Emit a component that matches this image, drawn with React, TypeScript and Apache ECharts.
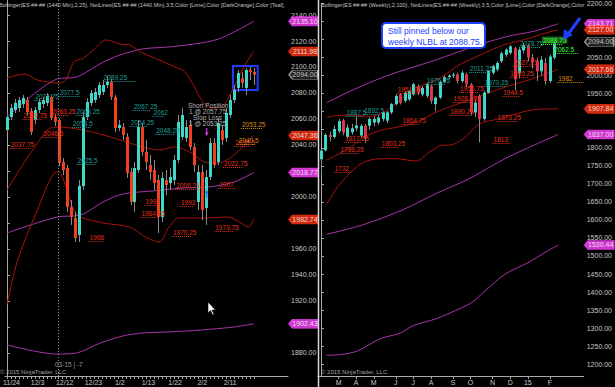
import React, { useEffect, useRef } from 'react';
import * as echarts from 'echarts';

const FONT = "'Liberation Sans', Arial, sans-serif";

// ---------------- LEFT PANEL (daily) ----------------
// [open, close, low, high]
const leftCandles: number[][] = [
  [2051.5, 2061.5, 2049.2, 2065.4], [2061.5, 2068.5, 2059.2, 2071.5], [2066.9, 2072.3, 2064.6, 2075.4],
  [2068.5, 2074.6, 2065.4, 2076.9], [2071.5, 2076.2, 2068.5, 2078.5], [2074.6, 2065.4, 2063.1, 2076.9],
  [2066.2, 2050.0, 2047.7, 2068.5], [2059.2, 2066.9, 2056.2, 2069.2], [2066.9, 2073.1, 2064.6, 2075.4],
  [2071.5, 2074.6, 2068.5, 2076.9], [2072.3, 2077.7, 2070.0, 2080.0], [2076.9, 2060.8, 2059.2, 2078.5],
  [2061.5, 2057.7, 2054.6, 2063.8], [2059.2, 2026.2, 2023.8, 2060.8], [2026.9, 2020.8, 2016.9, 2030.0],
  [2022.3, 1992.3, 1988.5, 2024.6], [1992.3, 1984.6, 1978.5, 1997.7], [1983.8, 1968.5, 1965.4, 1988.5],
  [1970.8, 2008.5, 1965.4, 2013.1], [2008.5, 2061.5, 2005.4, 2065.4], [2061.5, 2073.1, 2059.2, 2076.2],
  [2072.3, 2080.0, 2070.0, 2082.3], [2074.6, 2080.8, 2072.3, 2083.9], [2078.5, 2086.2, 2076.2, 2088.5],
  [2080.8, 2086.2, 2078.5, 2090.0], [2086.2, 2088.5, 2083.9, 2093.1], [2088.5, 2076.9, 2074.6, 2090.8],
  [2076.9, 2053.1, 2050.0, 2078.5], [2053.1, 2055.4, 2050.8, 2059.2], [2053.8, 2047.7, 2043.9, 2056.9],
  [2046.2, 2018.5, 2014.6, 2049.2], [2019.2, 1996.2, 1993.8, 2022.3], [1996.2, 2022.3, 1988.5, 2026.9],
  [2020.8, 2053.8, 2018.5, 2059.2], [2053.8, 2034.6, 2031.5, 2056.9], [2034.6, 2026.9, 2020.8, 2043.9],
  [2024.6, 2019.2, 2013.1, 2032.3], [2020.8, 2010.8, 2005.4, 2028.5], [2013.1, 1984.6, 1972.3, 2016.9],
  [1984.6, 2014.6, 1980.8, 2019.2], [2013.1, 2009.2, 2001.5, 2020.8], [2010.8, 2015.4, 2005.4, 2022.3],
  [2013.1, 2028.5, 2009.2, 2032.3], [2028.5, 2057.7, 2026.2, 2063.1], [2046.2, 2063.1, 2043.9, 2068.5],
  [2045.4, 2053.8, 2042.3, 2059.2], [2055.4, 2038.5, 2036.2, 2059.2], [2038.5, 2024.6, 2019.2, 2041.5],
  [1996.2, 2019.2, 1990.0, 2024.6], [2019.2, 1990.0, 1982.3, 2024.6], [1991.5, 2015.4, 1978.5, 2020.8],
  [2015.4, 2041.5, 2013.1, 2045.4], [2041.5, 2024.6, 2022.3, 2045.4], [2026.9, 2056.9, 2024.6, 2060.8],
  [2051.5, 2043.9, 2040.0, 2055.4], [2045.4, 2064.6, 2042.3, 2068.5], [2063.1, 2074.6, 2060.8, 2078.5],
  [2074.6, 2082.3, 2072.3, 2086.2], [2083.9, 2095.4, 2080.8, 2097.7], [2091.5, 2087.7, 2083.9, 2096.2],
  [2083.9, 2097.7, 2078.5, 2099.2], [2097.7, 2096.2, 2090.0, 2100.0], [2096.2, 2094.0, 2086.2, 2099.2],
];
const leftXTickPos = [1.15, 7.7, 14.5, 21.7, 28.3, 35.5, 42.2, 49, 56];
const leftXTickLabels = ['11/24', '12/3', '12/12', '12/23', '1/2', '1/13', '1/22', '2/2', '2/11'];
const leftYTicks = [1880, 1900, 1920, 1940, 1960, 1980, 2000, 2020, 2040, 2060, 2080, 2100, 2120, 2140];
// labels hidden behind the last-value tags
const leftYHidden = [1900, 1980, 2020];

const leftUpperMagenta = [[0.24, 2062], [12.57, 2090.8], [17.5, 2092.3], [24.15, 2103.8], [28.35, 2109.2], [34.02, 2113.9], [40.67, 2115.4], [48.81, 2118.5], [53, 2121.5], [56.95, 2126.9], [61.88, 2135.1]];
const leftMidMagenta = [[0, 1972.3], [12.57, 1984.6], [18.48, 1986.2], [24.15, 1996.2], [29.09, 2002.3], [36.48, 2004.6], [43.88, 2006.9], [50.54, 2007.7], [56.95, 2011.5], [61.88, 2018.77]];
const leftLowerMagenta = [[0, 1886.2], [12.57, 1879.2], [17.5, 1880], [23.42, 1887.7], [29.09, 1893.1], [34.02, 1895.4], [40.67, 1896.2], [48.81, 1897.7], [56.95, 1900], [61.88, 1902.43]];
const leftUpperRed = [[0, 2091.5], [4.43, 2094.6], [7.64, 2090], [13.06, 2087.7], [14.79, 2090], [16.76, 2103.8], [19.22, 2106.9], [21.69, 2113.1], [24.89, 2120.8], [28.35, 2117.7], [30.81, 2116.9], [34.02, 2110.8], [38.21, 2105.4], [42.15, 2100], [44.62, 2096.2], [47.08, 2084.6], [48.81, 2074.6], [51.28, 2068.5], [53.74, 2069.2], [56.21, 2080], [59.41, 2100], [61.88, 2111.98]];
const leftMidRed = [[0, 2005.4], [10.1, 2051.5], [13.06, 2053.8], [16.02, 2053.1], [22.43, 2049.2], [28.35, 2043.9], [34.02, 2038.5], [38.21, 2036.2], [42.15, 2038.5], [46.34, 2033.8], [49.55, 2026.9], [53, 2026.2], [56.95, 2032.3], [61.88, 2047.36]];
const leftLowerRed = [[0, 1916.9], [2.7, 1951.5], [7.64, 1990], [11.83, 2018.5], [13.06, 2019.2], [14.79, 2007.7], [16.76, 1990], [18.48, 1984.6], [24.15, 1980], [30.81, 1976.9], [34.76, 1969.2], [38.21, 1965.4], [40.67, 1976.9], [43.14, 1983.8], [48.81, 1983.8], [55.47, 1984.6], [58.67, 1980], [60.64, 1976.9], [61.88, 1982.74]];

// NetLines [fromBar, toBar, level]
const leftTealNet = [[6.9, 11.8, 2074.75], [13, 18.5, 2077.5], [24, 32.3, 2089.25], [17.2, 21, 2063.25], [31.6, 36, 2067.25], [36.5, 39.6, 2062], [30.8, 35.3, 2054.25], [37.2, 42.2, 2048.25], [17.5, 22.2, 2025.5], [16.3, 21.2, 2053.5]];
const leftRedNet = [[0.7, 6.2, 2037.75], [3.9, 8.9, 2059.75], [11.1, 15.5, 2063.25], [8.9, 13.8, 2046.5], [20.5, 24.2, 1966], [34.5, 37.7, 1994], [33.5, 37.7, 1984.25], [41.4, 46.3, 1970.25], [52, 57, 1973.75], [54.2, 59.2, 2022.75], [53, 57.4, 2007], [57, 61.1, 2039.5], [42.2, 48.1, 2006.25], [43.4, 46.8, 1993]];
const leftOrangeNet = [[58.7, 64.1, 2053.25], [57.9, 62.4, 2040.5]];

const leftTagValues = [2135.1, 2111.98, 2094.0, 2047.36, 2018.77, 1982.74, 1902.43];
const leftTagKinds = ['m', 'r', 'g', 'r', 'm', 'r', 'm'];

// ---------------- RIGHT PANEL (weekly) ----------------
const rightCandles: number[][] = [
  [1768, 1792, 1733, 1795], [1793, 1836, 1790, 1840], [1836, 1830, 1818, 1845], [1830, 1852, 1825, 1862],
  [1846, 1874, 1840, 1880], [1876, 1842, 1835, 1880], [1830, 1856, 1826, 1865], [1843, 1854, 1836, 1866],
  [1854, 1862, 1846, 1887], [1834, 1861, 1828, 1866], [1861, 1826, 1814, 1866], [1861, 1880, 1850, 1884],
  [1870, 1880, 1860, 1887], [1870, 1884, 1864, 1890], [1880, 1898, 1873, 1900], [1875, 1898, 1868, 1902],
  [1898, 1921, 1893, 1924], [1921, 1944, 1918, 1948], [1948, 1925, 1920, 1952], [1930, 1953, 1925, 1956],
  [1934, 1957, 1930, 1960], [1948, 1976, 1944, 1980], [1971, 1953, 1946, 1975], [1948, 1966, 1942, 1972],
  [1944, 1976, 1938, 1980], [1971, 1930, 1922, 1975], [1921, 1939, 1901, 1942], [1939, 1983, 1935, 1986],
  [1983, 1996, 1980, 2000], [1996, 2000, 1990, 2004], [2000, 2003, 1993, 2008], [2003, 1985, 1978, 2008],
  [1985, 2008, 1980, 2014], [2003, 1976, 1968, 2008], [1976, 1898, 1890, 1980], [1898, 1925, 1885, 1935],
  [1944, 1880, 1815, 1948], [1880, 1953, 1875, 1958], [1953, 2013, 1950, 2016], [2008, 2026, 2003, 2030],
  [2017, 2035, 2012, 2040], [2040, 2062, 2035, 2066], [2058, 2072, 2052, 2076], [2063, 2081, 2058, 2085],
  [2076, 1990, 1960, 2080], [2008, 2072, 1992, 2076], [2070, 2084, 2062, 2090], [2084, 2050, 2040, 2088],
  [2050, 2036, 2020, 2060], [2040, 2012, 1985, 2050], [2012, 2044, 2000, 2055], [2035, 1985, 1975, 2050],
  [1985, 2053, 1980, 2058], [2050, 2094, 2045, 2098],
];
const rightXTickPos = [4, 8, 12, 17, 21, 25, 30, 34, 39, 43, 47, 52];
const rightXTickLabels = ['M', 'A', 'M', 'J', 'J', 'A', 'S', 'O', 'N', 'D', '15', 'F'];
const rightYTicks = [1200, 1250, 1300, 1350, 1400, 1450, 1500, 1550, 1600, 1650, 1700, 1750, 1800, 1850, 1900, 1950, 2000, 2050, 2100, 2150, 2200];
const rightYHidden = [1850, 1900, 2100, 2150];

const rightUpperMagenta = [[1.27, 1925], [6.84, 1958], [14.93, 1999.5], [26.07, 2043.4], [34.98, 2082], [42.56, 2109.3], [48.4, 2123], [53.92, 2143.71]];
const rightMidMagenta = [[1.27, 1560], [9.8, 1587.4], [18.7, 1628.6], [26.07, 1672.6], [33.6, 1713.8], [39.2, 1752.2], [42.56, 1774.2], [48.4, 1807.2], [53.92, 1837]];
const rightLowerMagenta = [[1.27, 1224.8], [4.6, 1226.7], [8.3, 1236.6], [13.5, 1270.7], [18, 1286.1], [21, 1307.2], [26.1, 1325.6], [30.5, 1348.4], [34.3, 1371.2], [37.3, 1403.4], [41.8, 1449.2], [47, 1481.1], [51.4, 1513.3], [53.92, 1530.44]];
const rightUpperRed = [[1.27, 1884.1], [3.79, 1889.6], [7.51, 1890.4], [11.21, 1886.8], [14.19, 1897.8], [16.42, 1917.1], [18.65, 1939], [21.61, 1966.5], [24.58, 1980.2], [27.18, 1994], [31.42, 2029.7], [36.16, 2057.2], [41.38, 2084.6], [46.57, 2101.1], [51.03, 2118], [53.92, 2127]];
const rightMidRed = [[1.27, 1766], [6.08, 1796.2], [9.8, 1829.2], [13.52, 1848.4], [17.16, 1856.6], [21.61, 1870.4], [26.52, 1900.6], [33.87, 1933.5], [41.44, 1966.5], [48.8, 1994], [53.92, 2017.66]];
const rightLowerRed = [[1.27, 1642.4], [3.79, 1691.8], [6.84, 1733], [9.8, 1760.5], [13.52, 1769.6], [17.16, 1769.6], [21.61, 1763.2], [24.67, 1788], [27.63, 1807.2], [29.12, 1807.2], [32.82, 1829.2], [34.98, 1856.6], [36.92, 1870.4], [39.88, 1878.6], [48.8, 1906.1], [53.92, 1907.84]];

const rightTealNet = [[5.6, 9.6, 1887.5], [9.6, 13.6, 1892.5], [23.8, 28.3, 1976.25], [33.6, 38.5, 2011.25], [37, 41.9, 1970.25], [45, 49.8, 2078.75]];
const rightRedNet = [[5.3, 9.1, 1817.25], [4.2, 8.7, 1786.25], [2.9, 6.9, 1732], [13.6, 17.6, 1803.25], [39, 43, 1813], [39.9, 44.8, 1873.25], [29.2, 34.1, 1890.25], [29.9, 35, 1928.25], [41.2, 45.2, 1944.5], [31.4, 35.9, 1955.75], [17.2, 22.5, 1951.25], [18.3, 22.3, 1864.75], [43.7, 48.6, 2027.25], [42.8, 47.2, 1995.25]];
const rightOrangeNet = [[53.7, 59.7, 1982]];
const rightLimeNet = [[50, 54.8, 2088.75], [52.8, 58.6, 2062.5]];

const rightTagValues = [2143.71, 2127.0, 2094.0, 2017.66, 1907.84, 1837.0, 1530.44];
const rightTagKinds = ['m', 'r', 'g', 'r', 'r', 'm', 'm'];

// trade markers on the daily chart [bar, price]
const shortEntryArrow = [[50.1, 2050]];
const coverArrow = [[50.1, 2002.5]];

// ---------------- styling ----------------
const AXIS = '#a8a8a8';
const LABEL = '#c8c8c8';
const MAGENTA = '#a934a9';
const DKRED = '#a8140e';
const TEAL_TXT = '#1f9c96';
const RED_TXT = '#e0321c';
const ORANGE_TXT = '#d98a1c';
const LIME = '#3cff3c';

const tagStyle: Record<string, { fill: string; stroke: string; text: string }> = {
  m: { fill: '#ff44ff', stroke: '#ff44ff', text: '#ffffff' },
  r: { fill: '#ff3311', stroke: '#ff3311', text: '#ffffff' },
  g: { fill: '#2a2a2a', stroke: '#bdbdbd', text: '#e8e8e8' },
};

function candleRender(up: string, down: string, wick: string, bw: number) {
  return (_p: any, api: any) => {
    const x = api.value(0);
    const o = api.value(1), c = api.value(2), l = api.value(3), h = api.value(4);
    const po = api.coord([x, o]);
    const pc = api.coord([x, c]);
    const pl = api.coord([x, l]);
    const ph = api.coord([x, h]);
    const cx = Math.round(po[0]) + 0.5;
    const top = Math.min(po[1], pc[1]);
    const hgt = Math.max(1, Math.abs(po[1] - pc[1]));
    return {
      type: 'group',
      children: [
        { type: 'line', shape: { x1: cx, y1: ph[1], x2: cx, y2: pl[1] }, style: { stroke: wick, lineWidth: 1 } },
        { type: 'rect', shape: { x: cx - bw / 2, y: top, width: bw, height: hgt }, style: { fill: c >= o ? up : down } },
      ],
    };
  };
}

function netSeries(items: number[][], color: string, axis: number, bg?: string) {
  return {
    type: 'custom',
    xAxisIndex: axis,
    yAxisIndex: axis,
    silent: true,
    z: 4,
    clip: false,
    data: items,
    encode: { x: [0, 1], y: 2 },
    renderItem: (_p: any, api: any) => {
      const v = api.value(2);
      const a = api.coord([api.value(0), v]);
      const b = api.coord([api.value(1), v]);
      const y = Math.round(a[1]) + 0.5;
      const txt: any = {
        type: 'text',
        x: a[0] + 1,
        y: y - 1,
        style: { text: String(v), fill: color, font: `6.5px ${FONT}`, align: 'left', verticalAlign: 'bottom' },
      };
      if (bg) {
        txt.style.backgroundColor = bg;
        txt.style.padding = [0, 1];
      }
      return {
        type: 'group',
        children: [
          { type: 'line', shape: { x1: a[0], y1: y, x2: b[0], y2: y }, style: { stroke: color, lineWidth: 1, lineDash: [1, 1] } },
          txt,
        ],
      };
    },
  };
}

function bandLine(data: number[][], color: string, axis: number) {
  return {
    type: 'line',
    xAxisIndex: axis,
    yAxisIndex: axis,
    data,
    showSymbol: false,
    symbol: 'none',
    smooth: 0.3,
    silent: true,
    z: 2,
    lineStyle: { color, width: 1 },
  };
}

function tagSeries(values: number[], kinds: string[], axis: number, xEdge: number) {
  return {
    type: 'scatter',
    xAxisIndex: axis,
    yAxisIndex: axis,
    clip: false,
    silent: true,
    z: 6,
    symbol: 'path://M0,5L4,0L32,0L32,10L4,10Z',
    symbolKeepAspect: false,
    symbolSize: [29, 9],
    symbolOffset: [15.5, 0],
    data: values.map((v, i) => ({
      value: [xEdge, v],
      itemStyle: { color: tagStyle[kinds[i]].fill, borderColor: tagStyle[kinds[i]].stroke, borderWidth: 1 },
      label: { color: tagStyle[kinds[i]].text },
    })),
    label: {
      show: true,
      position: 'inside',
      offset: [1.5, 0],
      fontSize: 7,
      fontFamily: FONT,
      formatter: (p: any) => p.value[1].toFixed(2),
    },
  };
}

const LEFT_MIN_X = -0.5, LEFT_MAX_X = 70.5;
const RIGHT_MIN_X = -0.67, RIGHT_MAX_X = 59.71;

function buildOption(): any {
  const leftBars = leftCandles.map((d, i) => [i, d[0], d[1], d[2], d[3]]);
  const rightBars = rightCandles.map((d, i) => [i, d[0], d[1], d[2], d[3]]);
  const leftTickBars = leftCandles.map((_d, i) => i);

  const xAxisBase = (grid: number, min: number, max: number, pos: number[], labels: string[], ticks: number[]) => ({
    type: 'value',
    gridIndex: grid,
    min,
    max,
    axisLine: { show: true, lineStyle: { color: AXIS, width: 1 } },
    axisTick: { show: true, length: 3, customValues: ticks, lineStyle: { color: AXIS } },
    axisLabel: {
      customValues: pos,
      color: LABEL,
      fontSize: 7,
      fontFamily: FONT,
      margin: 3,
      formatter: (v: number) => {
        const k = pos.findIndex((p) => Math.abs(p - v) < 1e-6);
        return k >= 0 ? labels[k] : '';
      },
    },
    splitLine: { show: false },
  });

  const yAxisBase = (grid: number, min: number, max: number, ticks: number[], hidden: number[]) => ({
    type: 'value',
    gridIndex: grid,
    position: 'right',
    min,
    max,
    axisLine: { show: true, lineStyle: { color: AXIS, width: 1 } },
    axisTick: { show: true, length: 3, customValues: ticks, lineStyle: { color: AXIS } },
    axisLabel: {
      customValues: ticks.filter((t) => hidden.indexOf(t) < 0),
      color: LABEL,
      fontSize: 7,
      fontFamily: FONT,
      margin: 3,
      formatter: (v: number) => v.toFixed(2),
    },
    splitLine: { show: false },
  });

  return {
    animation: false,
    backgroundColor: '#000000',
    grid: [
      { left: 0, top: 0, width: 288, height: 376 },
      { left: 318, top: 0, width: 271, height: 376 },
    ],
    xAxis: [
      xAxisBase(0, LEFT_MIN_X, LEFT_MAX_X, leftXTickPos, leftXTickLabels, leftTickBars),
      xAxisBase(1, RIGHT_MIN_X, RIGHT_MAX_X, rightXTickPos, rightXTickLabels, rightXTickPos),
    ],
    yAxis: [
      yAxisBase(0, 1862.3, 2151.54, leftYTicks, leftYHidden),
      yAxisBase(1, 1167.2, 2200, rightYTicks, rightYHidden),
    ],
    series: [
      bandLine(leftUpperMagenta, MAGENTA, 0),
      bandLine(leftMidMagenta, MAGENTA, 0),
      bandLine(leftLowerMagenta, MAGENTA, 0),
      bandLine(leftUpperRed, DKRED, 0),
      bandLine(leftMidRed, DKRED, 0),
      bandLine(leftLowerRed, DKRED, 0),
      {
        type: 'custom',
        xAxisIndex: 0,
        yAxisIndex: 0,
        z: 3,
        silent: true,
        data: leftBars,
        encode: { x: 0, y: [1, 2, 3, 4] },
        renderItem: candleRender('#3fd8c8', '#f2401f', '#8c8c8c', 3),
        markLine: {
          silent: true,
          symbol: ['none', 'none'],
          label: { show: false },
          lineStyle: { color: '#8a8a8a', type: [1, 2], width: 1 },
          data: [{ xAxis: 12.9 }],
        },
        markArea: {
          silent: true,
          itemStyle: { color: 'rgba(0,0,0,0)', borderColor: '#1e3cff', borderWidth: 2 },
          data: [[{ coord: [56.7, 2100.8] }, { coord: [62.9, 2082.3] }]],
        },
      },
      netSeries(leftTealNet, TEAL_TXT, 0),
      netSeries(leftRedNet, RED_TXT, 0),
      netSeries(leftOrangeNet, ORANGE_TXT, 0),
      {
        type: 'scatter',
        xAxisIndex: 0,
        yAxisIndex: 0,
        silent: true,
        z: 5,
        symbol: 'path://M2,0L4,0L4,5L6,5L3,9L0,5L2,5Z',
        symbolSize: [4, 8],
        itemStyle: { color: '#ff44ff' },
        data: shortEntryArrow,
      },
      {
        type: 'scatter',
        xAxisIndex: 0,
        yAxisIndex: 0,
        silent: true,
        z: 5,
        symbol: 'path://M3,0L6,4L4,4L4,9L2,9L2,4L0,4Z',
        symbolSize: [4, 8],
        itemStyle: { color: '#2060ff' },
        data: coverArrow,
      },
      tagSeries(leftTagValues, leftTagKinds, 0, LEFT_MAX_X),

      bandLine(rightUpperMagenta, MAGENTA, 1),
      bandLine(rightMidMagenta, MAGENTA, 1),
      bandLine(rightLowerMagenta, MAGENTA, 1),
      bandLine(rightUpperRed, DKRED, 1),
      bandLine(rightMidRed, DKRED, 1),
      bandLine(rightLowerRed, DKRED, 1),
      {
        type: 'custom',
        xAxisIndex: 1,
        yAxisIndex: 1,
        z: 3,
        silent: true,
        data: rightBars,
        encode: { x: 0, y: [1, 2, 3, 4] },
        renderItem: candleRender('#3fd8c8', '#e0344a', '#8c8c8c', 3),
      },
      netSeries(rightTealNet, TEAL_TXT, 1),
      netSeries(rightRedNet, RED_TXT, 1),
      netSeries(rightOrangeNet, ORANGE_TXT, 1),
      netSeries(rightLimeNet.slice(0, 1), LIME, 1, '#1b5e1b'),
      netSeries(rightLimeNet.slice(1), LIME, 1),
      tagSeries(rightTagValues, rightTagKinds, 1, RIGHT_MAX_X),
    ],
    graphic: [
      {
        type: 'text',
        x: -1,
        y: 2,
        z: 10,
        style: {
          text: 'Bollinger(ES ##-## (1440 Min),2,25), NetLines(ES ##-## (1440 Min),3,5,Color [Lime],Color [DarkOrange],Color [Teal],Color [Red]',
          fill: '#c4c4c4',
          font: `5.5px ${FONT}`,
          width: 287,
          overflow: 'truncate',
          ellipsis: '',
        },
      },
      {
        type: 'text',
        x: 321,
        y: 2,
        z: 10,
        style: {
          text: 'Bollinger(ES ##-## (Weekly),2,100), NetLines(ES ##-## (Weekly),3,5,Color [Lime],Color [DarkOrange],Color [Teal],Color [Red]',
          fill: '#c4c4c4',
          font: `5.5px ${FONT}`,
          width: 266,
          overflow: 'truncate',
          ellipsis: '',
        },
      },
      { type: 'line', z: 10, shape: { x1: 318.5, y1: 0, x2: 318.5, y2: 387 }, style: { stroke: '#d8d8d8', lineWidth: 1.5 } },
      { type: 'text', x: 55, y: 361, z: 10, style: { text: '03-15 | -7', fill: '#9a9a9a', font: `6.5px ${FONT}` } },
      { type: 'text', x: 0, y: 369, z: 10, style: { text: '© 2015 NinjaTrader, LLC', fill: '#a0a0a0', font: `6px ${FONT}` } },
      { type: 'text', x: 321, y: 369, z: 10, style: { text: '© 2015 NinjaTrader, LLC', fill: '#a0a0a0', font: `6px ${FONT}` } },
      { type: 'text', x: 188, y: 102, z: 10, style: { text: 'Short Position', fill: '#b4b4b4', font: `6.5px ${FONT}` } },
      { type: 'text', x: 189, y: 108, z: 10, style: { text: '1 @ 2057.75', fill: '#b4b4b4', font: `6.5px ${FONT}` } },
      { type: 'text', x: 193, y: 114, z: 10, style: { text: 'Stop Loss', fill: '#b4b4b4', font: `6.5px ${FONT}` } },
      { type: 'text', x: 189, y: 120, z: 10, style: { text: '1 @ 2053.25', fill: '#b4b4b4', font: `6.5px ${FONT}` } },
      {
        type: 'polygon',
        z: 10,
        shape: { points: [[208, 302], [208, 313], [210.5, 310.5], [212.5, 315], [214, 314.3], [212, 310], [215.5, 310]] },
        style: { fill: '#ffffff', stroke: '#000000', lineWidth: 0.6 },
      },
      {
        type: 'rect',
        z: 10,
        shape: { x: 382, y: 23, width: 103, height: 25, r: 4 },
        style: { fill: '#ffffff', stroke: '#1f3fff', lineWidth: 2 },
      },
      { type: 'text', x: 388, y: 26, z: 11, style: { text: 'Still pinned below our', fill: '#1f3fff', font: `8.5px ${FONT}` } },
      { type: 'text', x: 388, y: 37, z: 11, style: { text: 'weekly NLBL at 2088.75.', fill: '#1f3fff', font: `8.5px ${FONT}` } },
      { type: 'line', z: 10, shape: { x1: 580, y1: 18, x2: 569, y2: 33 }, style: { stroke: '#1f3fff', lineWidth: 3 } },
      { type: 'polygon', z: 10, shape: { points: [[563, 40], [564, 29], [573, 35]] }, style: { fill: '#1f3fff' } },
    ],
  };
}

export default function App() {
  const ref = useRef<HTMLDivElement>(null);
  useEffect(() => {
    document.body.style.margin = '0';
    document.body.style.background = '#000';
    const chart = echarts.init(ref.current as HTMLDivElement, null, { renderer: 'svg', width: 615, height: 387 });
    chart.setOption(buildOption());
    return () => chart.dispose();
  }, []);
  return <div ref={ref} style={{ width: 615, height: 387, background: '#000' }} />;
}
